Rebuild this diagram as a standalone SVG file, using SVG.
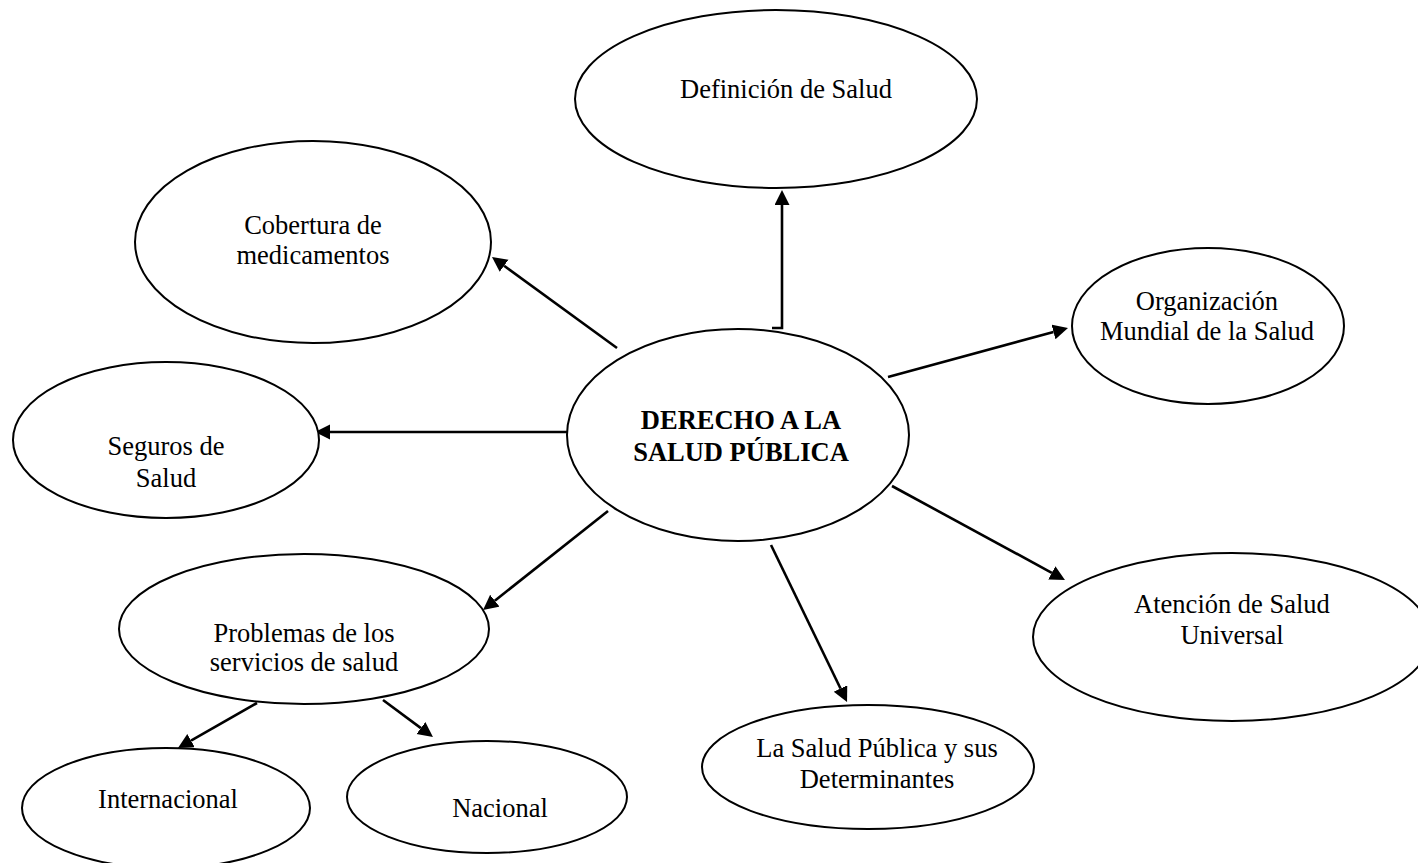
<svg xmlns="http://www.w3.org/2000/svg" width="1418" height="863" viewBox="0 0 1418 863">
  <defs>
    <style>
      .node ellipse { fill: #ffffff; stroke: #000000; stroke-width: 2; }
      .node text { font-family: "Liberation Serif", "Times New Roman", serif; font-size: 26.5px; fill: #000000; text-anchor: middle; }
      .node text.title { font-weight: bold; }
      .edges path { fill: none; stroke: #000000; stroke-width: 2.6; marker-end: url(#arrow); }
    </style>
    <marker id="arrow" markerUnits="userSpaceOnUse" markerWidth="16" markerHeight="16" refX="0" refY="7.5" orient="auto">
      <path d="M0,0 L15,7.5 L0,15 z" fill="#000000"/>
    </marker>
  </defs>
  <rect width="1418" height="863" fill="#ffffff"/>

  <!-- connectors -->
  <g id="edges" class="edges">
    <path d="M772,328 H782 V205"/>
    <path d="M617,348 L504.1,265.8"/>
    <path d="M567,432 L330,432"/>
    <path d="M888,377 L1053.5,331.9"/>
    <path d="M892,486 L1051.8,572.8"/>
    <path d="M771,545 L840.5,688.5"/>
    <path d="M608,511 L494.8,600.7"/>
    <path d="M257,703 L191,740.6"/>
    <path d="M383,700 L420.9,728.1"/>
  </g>

  <g id="node-derecho" class="node">
    <ellipse cx="738" cy="435" rx="171" ry="106"/>
    <text class="title" x="741" y="429">DERECHO A LA</text>
    <text class="title" x="741" y="461">SALUD PÚBLICA</text>
  </g>

  <g id="node-definicion" class="node">
    <ellipse cx="776" cy="99" rx="201" ry="89"/>
    <text x="786" y="98">Definición de Salud</text>
  </g>

  <g id="node-cobertura" class="node">
    <ellipse cx="313" cy="242" rx="178" ry="101"/>
    <text x="313" y="234">Cobertura de</text>
    <text x="313" y="264">medicamentos</text>
  </g>

  <g id="node-oms" class="node">
    <ellipse cx="1208" cy="326" rx="136" ry="78"/>
    <text x="1207" y="310">Organización</text>
    <text x="1207" y="340">Mundial de la Salud</text>
  </g>

  <g id="node-seguros" class="node">
    <ellipse cx="166" cy="440" rx="153" ry="78"/>
    <text x="166" y="455">Seguros de</text>
    <text x="166" y="487">Salud</text>
  </g>

  <g id="node-problemas" class="node">
    <ellipse cx="304" cy="629" rx="185" ry="75"/>
    <text x="304" y="642">Problemas de los</text>
    <text x="304" y="671">servicios de salud</text>
  </g>

  <g id="node-atencion" class="node">
    <ellipse cx="1232" cy="637" rx="199" ry="84"/>
    <text x="1232" y="613">Atención de Salud</text>
    <text x="1232" y="644">Universal</text>
  </g>

  <g id="node-determinantes" class="node">
    <ellipse cx="868" cy="767" rx="166" ry="62"/>
    <text x="877" y="757">La Salud Pública y sus</text>
    <text x="877" y="788">Determinantes</text>
  </g>

  <g id="node-internacional" class="node">
    <ellipse cx="166" cy="808" rx="144" ry="60"/>
    <text x="168" y="808">Internacional</text>
  </g>

  <g id="node-nacional" class="node">
    <ellipse cx="487" cy="797" rx="140" ry="56"/>
    <text x="500" y="817">Nacional</text>
  </g>
</svg>
